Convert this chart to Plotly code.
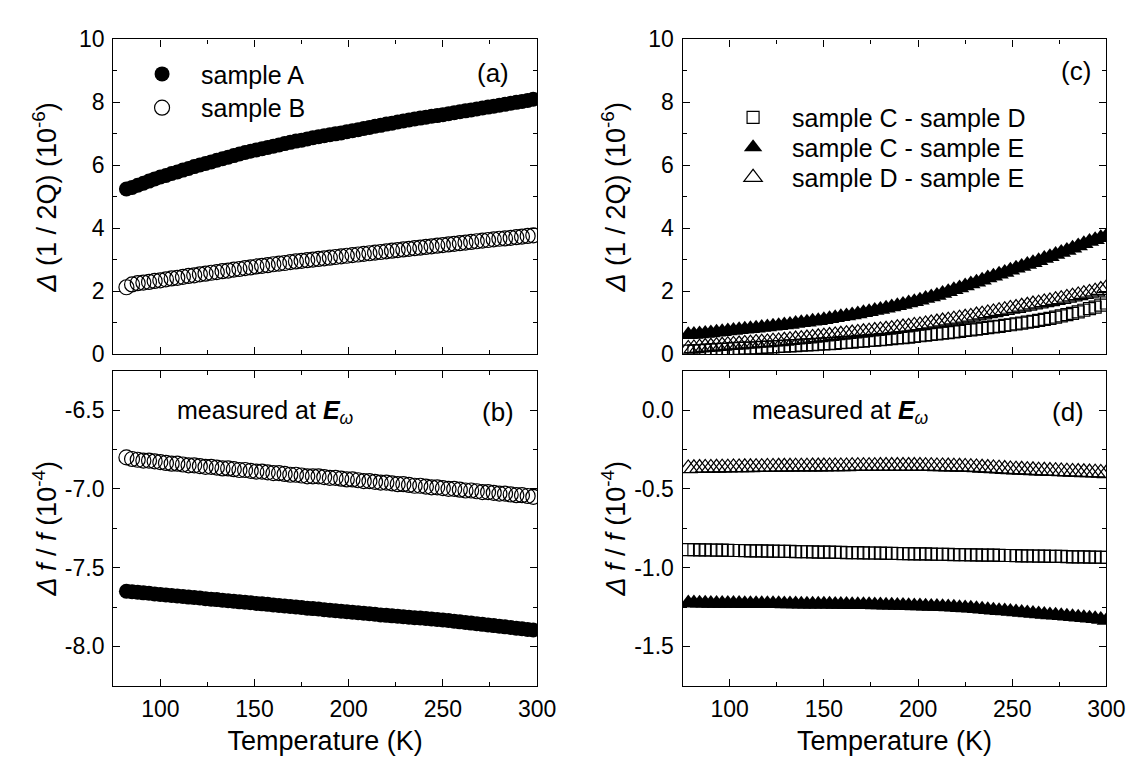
import plotly.graph_objects as go

# ---------------- data ----------------
T_ab = list(range(82, 299, 3))   # temperatures (K), panels (a),(b)
T_cd = list(range(78, 301, 3))   # temperatures (K), panels (c),(d)

q_A = [5.25, 5.30, 5.37, 5.43, 5.50, 5.57, 5.63, 5.68, 5.74, 5.79, 5.85, 5.90, 5.96, 6.01, 6.06,
       6.11, 6.16, 6.21, 6.26, 6.31, 6.36, 6.41, 6.45, 6.49, 6.53, 6.57, 6.61, 6.65, 6.69, 6.73,
       6.77, 6.80, 6.84, 6.88, 6.91, 6.94, 6.97, 7.00, 7.03, 7.07, 7.10, 7.13, 7.17, 7.20, 7.24,
       7.27, 7.31, 7.34, 7.38, 7.41, 7.44, 7.47, 7.50, 7.53, 7.56, 7.58, 7.61, 7.64, 7.67, 7.70,
       7.73, 7.76, 7.79, 7.82, 7.85, 7.88, 7.91, 7.94, 7.97, 8.00, 8.03, 8.06, 8.10]
q_B = [2.13, 2.22, 2.26, 2.28, 2.30, 2.33, 2.35, 2.38, 2.41, 2.43, 2.46, 2.49, 2.51, 2.54, 2.56,
       2.59, 2.61, 2.64, 2.66, 2.69, 2.71, 2.74, 2.76, 2.79, 2.81, 2.83, 2.86, 2.88, 2.90, 2.93,
       2.95, 2.97, 2.99, 3.01, 3.03, 3.05, 3.07, 3.09, 3.11, 3.13, 3.15, 3.17, 3.19, 3.21, 3.23,
       3.25, 3.27, 3.29, 3.31, 3.33, 3.35, 3.37, 3.39, 3.41, 3.43, 3.45, 3.47, 3.49, 3.51, 3.53,
       3.55, 3.57, 3.59, 3.61, 3.63, 3.65, 3.67, 3.68, 3.70, 3.72, 3.74, 3.76, 3.78]
f_A = [-7.650, -7.653, -7.656, -7.660, -7.663, -7.667, -7.670, -7.673, -7.677, -7.680, -7.683,
       -7.687, -7.690, -7.693, -7.697, -7.700, -7.703, -7.707, -7.710, -7.713, -7.717, -7.720,
       -7.723, -7.727, -7.730, -7.733, -7.737, -7.740, -7.743, -7.747, -7.750, -7.753, -7.757,
       -7.760, -7.763, -7.767, -7.770, -7.773, -7.777, -7.780, -7.783, -7.786, -7.790, -7.793,
       -7.796, -7.800, -7.803, -7.806, -7.809, -7.812, -7.815, -7.818, -7.820, -7.823, -7.826,
       -7.829, -7.832, -7.836, -7.840, -7.844, -7.848, -7.852, -7.856, -7.860, -7.864, -7.868,
       -7.872, -7.876, -7.880, -7.884, -7.888, -7.892, -7.896]
f_B = [-6.800, -6.810, -6.815, -6.820, -6.820, -6.825, -6.830, -6.835, -6.840, -6.840, -6.845,
       -6.850, -6.850, -6.855, -6.860, -6.860, -6.865, -6.870, -6.870, -6.875, -6.880, -6.880,
       -6.885, -6.890, -6.890, -6.895, -6.900, -6.900, -6.905, -6.910, -6.910, -6.915, -6.920,
       -6.920, -6.920, -6.925, -6.930, -6.930, -6.935, -6.940, -6.940, -6.945, -6.950, -6.950,
       -6.955, -6.960, -6.960, -6.965, -6.970, -6.970, -6.975, -6.980, -6.980, -6.985, -6.990,
       -6.990, -6.995, -7.000, -7.000, -7.005, -7.010, -7.010, -7.015, -7.020, -7.020, -7.025,
       -7.030, -7.030, -7.035, -7.040, -7.040, -7.045, -7.050]

q_CD = [0.10, 0.11, 0.12, 0.13, 0.14, 0.15, 0.16, 0.17, 0.18, 0.19, 0.20, 0.20, 0.21, 0.22, 0.23,
        0.24, 0.25, 0.26, 0.27, 0.28, 0.29, 0.30, 0.31, 0.32, 0.33, 0.34, 0.35, 0.37, 0.38, 0.39,
        0.41, 0.42, 0.44, 0.45, 0.47, 0.48, 0.50, 0.52, 0.53, 0.55, 0.57, 0.59, 0.61, 0.63, 0.65,
        0.67, 0.69, 0.71, 0.73, 0.76, 0.78, 0.80, 0.82, 0.85, 0.87, 0.89, 0.92, 0.94, 0.97, 0.99,
        1.02, 1.05, 1.08, 1.11, 1.14, 1.18, 1.22, 1.26, 1.30, 1.35, 1.40, 1.45, 1.50, 1.56, 1.63]
q_CE = [0.62, 0.63, 0.65, 0.66, 0.68, 0.70, 0.72, 0.74, 0.76, 0.78, 0.80, 0.81, 0.83, 0.85, 0.87,
        0.89, 0.91, 0.93, 0.95, 0.98, 1.00, 1.02, 1.05, 1.07, 1.10, 1.13, 1.16, 1.19, 1.22, 1.25,
        1.28, 1.32, 1.35, 1.39, 1.42, 1.46, 1.50, 1.54, 1.58, 1.63, 1.67, 1.72, 1.77, 1.82, 1.87,
        1.93, 1.99, 2.05, 2.11, 2.17, 2.23, 2.29, 2.35, 2.42, 2.48, 2.54, 2.60, 2.67, 2.73, 2.79,
        2.85, 2.91, 2.97, 3.04, 3.10, 3.17, 3.23, 3.30, 3.37, 3.44, 3.51, 3.58, 3.64, 3.70, 3.76]
q_DE = [0.17, 0.19, 0.21, 0.23, 0.24, 0.26, 0.27, 0.29, 0.30, 0.31, 0.33, 0.34, 0.36, 0.37, 0.38,
        0.40, 0.41, 0.43, 0.45, 0.47, 0.48, 0.50, 0.52, 0.54, 0.56, 0.58, 0.60, 0.62, 0.64, 0.66,
        0.68, 0.70, 0.72, 0.74, 0.76, 0.78, 0.80, 0.83, 0.85, 0.87, 0.90, 0.92, 0.95, 0.98, 1.01,
        1.04, 1.07, 1.10, 1.13, 1.16, 1.19, 1.23, 1.26, 1.30, 1.33, 1.37, 1.40, 1.44, 1.47, 1.51,
        1.54, 1.58, 1.61, 1.65, 1.68, 1.72, 1.75, 1.79, 1.83, 1.87, 1.91, 1.95, 1.99, 2.04, 2.10]

f_CD = [-0.885, -0.886, -0.887, -0.887, -0.888, -0.889, -0.889, -0.890, -0.891, -0.891, -0.892,
        -0.893, -0.893, -0.894, -0.895, -0.895, -0.896, -0.897, -0.897, -0.898, -0.899, -0.899,
        -0.900, -0.901, -0.901, -0.902, -0.903, -0.903, -0.904, -0.905, -0.905, -0.906, -0.907,
        -0.907, -0.908, -0.909, -0.909, -0.910, -0.911, -0.911, -0.912, -0.913, -0.913, -0.914,
        -0.915, -0.915, -0.916, -0.917, -0.917, -0.918, -0.919, -0.919, -0.920, -0.921, -0.921,
        -0.922, -0.923, -0.923, -0.924, -0.925, -0.925, -0.926, -0.927, -0.927, -0.928, -0.929,
        -0.929, -0.930, -0.931, -0.931, -0.932, -0.933, -0.933, -0.934, -0.935]
f_CE = [-1.225, -1.225, -1.226, -1.226, -1.227, -1.227, -1.227, -1.228, -1.228, -1.228, -1.229,
        -1.229, -1.229, -1.230, -1.230, -1.230, -1.230, -1.231, -1.231, -1.231, -1.232, -1.232,
        -1.232, -1.233, -1.233, -1.233, -1.234, -1.234, -1.234, -1.235, -1.235, -1.236, -1.236,
        -1.237, -1.237, -1.238, -1.239, -1.240, -1.241, -1.242, -1.243, -1.244, -1.245, -1.246,
        -1.247, -1.249, -1.250, -1.252, -1.254, -1.256, -1.258, -1.261, -1.264, -1.267, -1.270,
        -1.273, -1.276, -1.279, -1.282, -1.285, -1.288, -1.291, -1.294, -1.297, -1.300, -1.303,
        -1.306, -1.309, -1.312, -1.315, -1.318, -1.321, -1.325, -1.329, -1.335]
f_DE = [-0.370, -0.369, -0.368, -0.367, -0.367, -0.366, -0.365, -0.365, -0.364, -0.364, -0.363,
        -0.363, -0.362, -0.362, -0.361, -0.361, -0.360, -0.360, -0.360, -0.359, -0.359, -0.359,
        -0.358, -0.358, -0.358, -0.357, -0.357, -0.357, -0.357, -0.356, -0.356, -0.356, -0.356,
        -0.356, -0.355, -0.355, -0.355, -0.355, -0.355, -0.355, -0.355, -0.355, -0.356, -0.356,
        -0.357, -0.357, -0.358, -0.359, -0.360, -0.361, -0.362, -0.364, -0.366, -0.368, -0.370,
        -0.372, -0.374, -0.376, -0.378, -0.379, -0.381, -0.382, -0.384, -0.385, -0.387, -0.388,
        -0.389, -0.391, -0.392, -0.393, -0.395, -0.396, -0.397, -0.399, -0.401]

x_ticks = [100, 150, 200, 250, 300]
x_ticktext = ["100", "150", "200", "250", "300"]
x_minor = [75, 125, 175, 225, 275]
q_ticks = [0, 2, 4, 6, 8, 10]
q_ticktext = ["0", "2", "4", "6", "8", "10"]
q_minor = [1, 3, 5, 7, 9]
fb_ticks = [-8.0, -7.5, -7.0, -6.5]
fb_ticktext = ["-8.0", "-7.5", "-7.0", "-6.5"]
fb_minor = [-8.25, -7.75, -7.25, -6.75, -6.25]
fd_ticks = [-1.5, -1.0, -0.5, 0.0]
fd_ticktext = ["-1.5", "-1.0", "-0.5", "0.0"]
fd_minor = [-1.75, -1.25, -0.75, -0.25, 0.25]

# ---------------- figure ----------------
FONT = "Liberation Sans, Arial, sans-serif"
W, H = 1144, 770
XL = [107 / W, 538 / W]
XR = [686 / W, 1117 / W]
YT = [(H - 345) / H, (H - 19) / H]
YB = [(H - 688) / H, (H - 362) / H]

fig = go.Figure()

def open_marker(symbol, size):
    return dict(symbol=symbol, size=size, color="black", line=dict(color="black", width=1.2))

def filled_marker(symbol, size):
    return dict(symbol=symbol, size=size, color="black", line=dict(color="black", width=0))

# panel (a)
fig.add_trace(go.Scatter(x=T_ab, y=q_A, mode="markers", name="sample A",
                         marker=filled_marker("circle", 15), xaxis="x", yaxis="y", legend="legend"))
fig.add_trace(go.Scatter(x=T_ab, y=q_B, mode="markers", name="sample B",
                         marker=open_marker("circle-open", 15), xaxis="x", yaxis="y", legend="legend2"))
# panel (b)
fig.add_trace(go.Scatter(x=T_ab, y=f_B, mode="markers", showlegend=False,
                         marker=open_marker("circle-open", 15), xaxis="x2", yaxis="y2"))
fig.add_trace(go.Scatter(x=T_ab, y=f_A, mode="markers", showlegend=False,
                         marker=filled_marker("circle", 15), xaxis="x2", yaxis="y2"))
# panel (c)
fig.add_trace(go.Scatter(x=T_cd, y=q_CD, mode="markers", name="sample C - sample D",
                         marker=open_marker("square-open", 12), xaxis="x3", yaxis="y3", legend="legend3"))
fig.add_trace(go.Scatter(x=T_cd, y=q_CE, mode="markers", name="sample C - sample E",
                         marker=filled_marker("triangle-up", 17), xaxis="x3", yaxis="y3", legend="legend4"))
fig.add_trace(go.Scatter(x=T_cd, y=q_DE, mode="markers", name="sample D - sample E",
                         marker=open_marker("triangle-up-open", 17), xaxis="x3", yaxis="y3", legend="legend5"))
# panel (d)
fig.add_trace(go.Scatter(x=T_cd, y=f_CD, mode="markers", showlegend=False,
                         marker=open_marker("square-open", 12), xaxis="x4", yaxis="y4"))
fig.add_trace(go.Scatter(x=T_cd, y=f_CE, mode="markers", showlegend=False,
                         marker=filled_marker("triangle-up", 17), xaxis="x4", yaxis="y4"))
fig.add_trace(go.Scatter(x=T_cd, y=f_DE, mode="markers", showlegend=False,
                         marker=open_marker("triangle-up-open", 17), xaxis="x4", yaxis="y4"))

tickfont = dict(family=FONT, size=23, color="black")
titlefont = dict(family=FONT, size=27, color="black")

def xax(domain, anchor, labels, title=None):
    d = dict(domain=domain, anchor=anchor, range=[75, 300], tickmode="array",
             tickvals=x_ticks, ticktext=x_ticktext, showticklabels=labels,
             ticks="inside", ticklen=7, tickwidth=1.2, tickcolor="black",
             minor=dict(tickmode="array", tickvals=x_minor, ticks="inside", ticklen=4,
                        tickwidth=1.2, tickcolor="black", showgrid=False),
             showline=True, linecolor="black", linewidth=1.3, mirror="allticks",
             showgrid=False, zeroline=False, tickfont=tickfont, ticklabelstandoff=2)
    if title:
        d["title"] = dict(text=title, font=titlefont, standoff=10)
    return d

def yax(domain, anchor, rng, tv, tt, mv, title, standoff):
    return dict(domain=domain, anchor=anchor, range=rng, tickmode="array",
                tickvals=tv, ticktext=tt, ticks="inside", ticklen=7, tickwidth=1.2,
                tickcolor="black",
                minor=dict(tickmode="array", tickvals=mv, ticks="inside", ticklen=4,
                           tickwidth=1.2, tickcolor="black", showgrid=False),
                showline=True, linecolor="black", linewidth=1.3, mirror="allticks",
                showgrid=False, zeroline=False, tickfont=tickfont, ticklabelstandoff=3,
                title=dict(text=title, font=titlefont, standoff=standoff))

q_title = "<i>Δ</i> (1 / 2Q) (10<sup>-6</sup>)"
f_title = "<i>Δ f</i> / <i>f</i> (10<sup>-4</sup>)"

leg_font = dict(family=FONT, size=25, color="black")

def leg(x_px, y_px):
    return dict(x=x_px / W, y=(H - y_px) / H, xanchor="left", yanchor="middle",
                bgcolor="rgba(0,0,0,0)", borderwidth=0, itemwidth=68, font=leg_font)

fig.update_layout(
    width=W, height=H, autosize=False,
    margin=dict(l=0, r=0, t=0, b=0),
    paper_bgcolor="white", plot_bgcolor="white",
    font=dict(family=FONT, color="black"),
    xaxis=xax(XL, "y", False),
    yaxis=yax(YT, "x", [0, 10], q_ticks, q_ticktext, q_minor, q_title, 14),
    xaxis2=xax(XL, "y2", True, "Temperature (K)"),
    yaxis2=yax(YB, "x2", [-8.25, -6.25], fb_ticks, fb_ticktext, fb_minor, f_title, 0),
    xaxis3=xax(XR, "y3", False),
    yaxis3=yax(YT, "x3", [0, 10], q_ticks, q_ticktext, q_minor, q_title, 14),
    xaxis4=xax(XR, "y4", True, "Temperature (K)"),
    yaxis4=yax(YB, "x4", [-1.75, 0.25], fd_ticks, fd_ticktext, fd_minor, f_title, 0),
    legend=leg(117, 55),
    legend2=leg(117, 90),
    legend3=leg(718, 100),
    legend4=leg(718, 131),
    legend5=leg(718, 162),
    showlegend=True,
)

lab_font = dict(family=FONT, size=26, color="black")
ann_font = dict(family=FONT, size=25, color="black")
labels = [("(a)", "x domain", "y domain", 0.895, 0.893),
          ("(b)", "x2 domain", "y2 domain", 0.907, 0.868),
          ("(c)", "x3 domain", "y3 domain", 0.928, 0.899),
          ("(d)", "x4 domain", "y4 domain", 0.91, 0.868)]
for txt, xr, yr, xx, yy in labels:
    fig.add_annotation(text=txt, xref=xr, yref=yr, x=xx, y=yy, showarrow=False,
                       font=lab_font, xanchor="center", yanchor="middle")

meas = "measured at <b><i>E</i></b><sub><i>ω</i></sub>"
fig.add_annotation(text=meas, xref="x2 domain", yref="y2 domain", x=0.145, y=0.868,
                   showarrow=False, font=ann_font, xanchor="left", yanchor="middle")
fig.add_annotation(text=meas, xref="x4 domain", yref="y4 domain", x=0.158, y=0.868,
                   showarrow=False, font=ann_font, xanchor="left", yanchor="middle")

fig.write_html("out.html")
